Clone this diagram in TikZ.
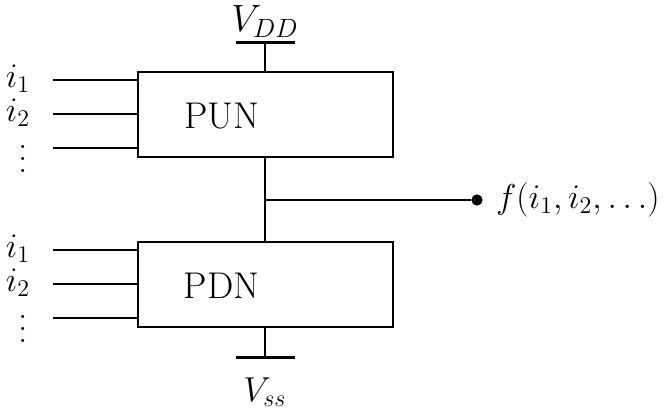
\documentclass[tikz,border=0pt]{standalone}
\usetikzlibrary{positioning}
\newcommand{\dotcol}{\vbox{\baselineskip6.2pt\lineskiplimit0pt\hbox{.}\hbox{.}\hbox{.}}}
\tikzset{
  netbox/.style={draw,line width=0.8pt,minimum width=127.5pt,minimum height=42.5pt,inner sep=0pt},
  wire/.style={line width=0.8pt},
  rail/.style={line width=1.5pt},
  pinlbl/.style={inner sep=0pt},
}
\begin{document}
\begin{tikzpicture}[x=0.5pt,y=-0.5pt,font=\fontsize{18.6pt}{22pt}\selectfont]
\useasboundingbox (0,0) rectangle (666,414);

% pull-up and pull-down networks
\node[netbox] (pun) at (265.5,114.5) {};
\node[netbox] (pdn) at (265.5,284.5) {};
\node (punlbl) at (221.5,116) {PUN};
\node (pdnlbl) at (221.5,286) {PDN};

% supply rails
\coordinate (vdd) at (265,42);
\coordinate (vddl) at (236,42);
\coordinate (vddr) at (295,42);
\draw[rail] (vddl)--(vddr);
\draw[wire] (vdd)--(vdd |- pun.north);
\node[above=1pt of vdd,inner sep=1pt,scale=1.1] (vddlbl) {$V_{DD}$};

\coordinate (vss) at (265,357);
\coordinate (vssl) at (236,357);
\coordinate (vssr) at (295,357);
\draw[rail] (vssl)--(vssr);
\draw[wire] (vss |- pdn.south)--(vss);
\node (vsslbl) at (265,392) {$V_{ss}$};

% output
\node[circle,fill,inner sep=2pt] (out) at (477,200) {};
\coordinate (mid) at (vdd |- out);
\draw[wire] (vdd |- pun.south)--(vdd |- pdn.north);
\draw[wire] (mid)--(out);
\node[right=3pt of out] (flbl) {$f(i_1,i_2,\ldots)$};

% inputs
\foreach \y/\n in {80/1,114/2,148/3}{
  \coordinate (up\n) at (53,\y);
  \draw[wire] (up\n)--(up\n -| pun.west);
}
\foreach \y/\n in {250/1,284/2,318/3}{
  \coordinate (dn\n) at (53,\y);
  \draw[wire] (dn\n)--(dn\n -| pdn.west);
}
\node[pinlbl] (upi1) at (18,79) {$i_1$};
\node[pinlbl] (upi2) at (18,113) {$i_2$};
\node[pinlbl] (updots) at (23,159) {\dotcol};
\node[pinlbl] (dni1) at (18,249) {$i_1$};
\node[pinlbl] (dni2) at (18,283) {$i_2$};
\node[pinlbl] (dndots) at (23,329) {\dotcol};

\end{tikzpicture}
\end{document}
